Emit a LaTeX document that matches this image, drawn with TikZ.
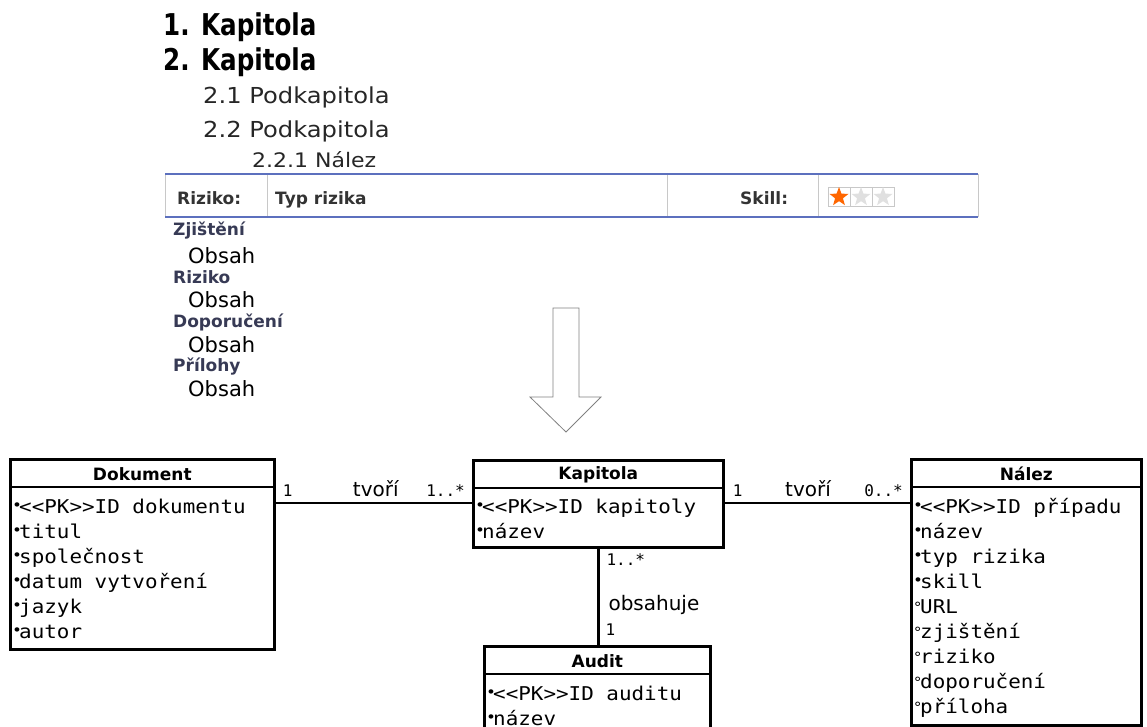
\documentclass[tikz,border=0pt]{standalone}
\usepackage{fontspec}
\setmainfont{DejaVu Sans}
\newfontfamily\kapfont[FakeStretch=0.82]{DejaVu Sans Bold}
\newfontfamily\subfont[FakeStretch=1.1]{DejaVu Sans}
\newfontfamily\monofont[FakeStretch=1.1,Ligatures=TeXOff]{DejaVu Sans Mono}
\newfontfamily\multfont[Ligatures=TeXOff]{DejaVu Sans Mono}
\usetikzlibrary{shapes.geometric}
\definecolor{tblue}{RGB}{92,112,190}
\definecolor{tgray}{RGB}{200,200,200}
\definecolor{headc}{RGB}{55,58,85}
\definecolor{starc}{RGB}{255,102,0}
\newcommand{\mand}{\makebox[7pt][l]{\raisebox{3pt}{\fontsize{15}{15}\selectfont •}}}
\newcommand{\opt}{\makebox[7pt][l]{\raisebox{1pt}{\fontsize{14}{14}\selectfont °}}}
\begin{document}
\begin{tikzpicture}[x=1pt,y=-1pt,
  umlbox/.style={draw,line width=2.6pt,inner sep=0,anchor=north west},
  umltitle/.style={font=\bfseries\fontsize{17}{17}\selectfont,inner sep=0},
  row/.style={font=\monofont\fontsize{19}{19}\selectfont,inner sep=0,anchor=base west},
  mult/.style={font=\multfont\fontsize{16}{16}\selectfont,inner sep=0},
  lbl/.style={font=\fontsize{20}{20}\selectfont,inner sep=0},
  thead/.style={font=\bfseries\fontsize{17}{17}\selectfont,text=black!80,inner sep=0,anchor=base west},
  shead/.style={font=\bfseries\fontsize{17}{17}\selectfont,text=headc,inner sep=0,anchor=base west},
  obsah/.style={font=\fontsize{21}{21}\selectfont,inner sep=0,anchor=base west}]
\useasboundingbox (0,0) rectangle (1147,726);
% osnova
\node[font=\kapfont\fontsize{30}{30}\selectfont,inner sep=0,anchor=base west] (k1) at (163,35) {1. Kapitola};
\node[font=\kapfont\fontsize{30}{30}\selectfont,inner sep=0,anchor=base west] (k2) at (163,70) {2. Kapitola};
\node[font=\subfont\fontsize{22}{22}\selectfont,text=black!85,inner sep=0,anchor=base west] (p1) at (203,103) {2.1 Podkapitola};
\node[font=\subfont\fontsize{22}{22}\selectfont,text=black!85,inner sep=0,anchor=base west] (p2) at (203,137) {2.2 Podkapitola};
\node[font=\subfont\fontsize{20}{20}\selectfont,text=black!85,inner sep=0,anchor=base west] (n1) at (252,167) {2.2.1 Nález};
% tabulka nalezu
\draw[tgray] (165,174) -- (165,217) (267,174) -- (267,217) (667,174) -- (667,217) (818,174) -- (818,217) (978,174) -- (978,217);
\draw[tblue,line width=2pt] (165,174) -- (978,174);
\draw[tblue,line width=2pt] (165,217) -- (978,217);
\node[thead] (riz) at (177,204) {Riziko:};
\node[thead] (typ) at (275,204) {Typ rizika};
\node[thead] (skl) at (740,204) {Skill:};
\foreach \s/\c in {0/starc,1/black!12,2/black!12}{
  \draw[tgray] (828+22*\s,187) rectangle (850+22*\s,206);
  \node[star,star points=5,star point ratio=2.4,fill=\c,minimum size=20pt,inner sep=0] at (839+22*\s,197) {};
}
\node[shead] (zj) at (173,235) {Zjištění};
\node[obsah] (o1) at (188,263) {Obsah};
\node[shead] (rz) at (173,283) {Riziko};
\node[obsah] (o2) at (188,307) {Obsah};
\node[shead] (dp) at (173,327) {Doporučení};
\node[obsah] (o3) at (188,352) {Obsah};
\node[shead] (pr) at (173,371) {Přílohy};
\node[obsah] (o4) at (188,396) {Obsah};
% sipka
\draw[black!50,line width=0.8pt,line join=miter] (553,308) -- (579,308) -- (579,397) -- (601,397) -- (566,432) -- (530,397) -- (553,397) -- cycle;
% ER diagram
\node[umlbox,minimum width=264pt,minimum height=190pt] (dok) at (9,458) {};
\node[umlbox,minimum width=250pt,minimum height=87pt] (kap) at (472,459) {};
\node[umlbox,minimum width=230pt,minimum height=266pt] (nal) at (910,458) {};
\node[umlbox,minimum width=226pt,minimum height=110pt] (aud) at (483,645) {};
\foreach \b/\t in {dok/Dokument,kap/Kapitola,nal/Nález,aud/Audit}{
  \draw[line width=2.6pt] ([yshift=-29pt]\b.north west) -- ([yshift=-29pt]\b.north east);
  \node[umltitle] at ([yshift=-16pt]\b.north) {\t};
}
\foreach \t [count=\i] in {\mand<<PK>>ID dokumentu,\mand titul,\mand společnost,\mand datum vytvoření,\mand jazyk,\mand autor}
  \node[row] (dok\i) at ([xshift=3pt,yshift={-55pt-25pt*(\i-1)}]dok.north west) {\t};
\foreach \t [count=\i] in {\mand<<PK>>ID kapitoly,\mand název}
  \node[row] (kap\i) at ([xshift=3pt,yshift={-54pt-25pt*(\i-1)}]kap.north west) {\t};
\foreach \t [count=\i] in {\mand<<PK>>ID případu,\mand název,\mand typ rizika,\mand skill,\opt URL,\opt zjištění,\opt riziko,\opt doporučení,\opt příloha}
  \node[row] (nal\i) at ([xshift=3pt,yshift={-55pt-25pt*(\i-1)}]nal.north west) {\t};
\foreach \t [count=\i] in {\mand<<PK>>ID auditu,\mand název}
  \node[row] (aud\i) at ([xshift=3pt,yshift={-55pt-25pt*(\i-1)}]aud.north west) {\t};
% vazby
\coordinate (l1) at ([yshift=-45pt]dok.north east);
\coordinate (l2) at ([yshift=-44pt]kap.north east);
\draw[line width=2.6pt] (l1) -- node[lbl,pos=0.51,anchor=base,yshift=7pt]{tvoří} (kap.west |- l1);
\draw[line width=2.6pt] (l2) -- node[lbl,pos=0.45,anchor=base,yshift=7pt]{tvoří} (nal.west |- l2);
\draw[line width=2.6pt] (kap.south) -- (kap.south |- aud.north);
\node[mult,anchor=base west] at ([xshift=7pt,yshift=7pt]l1) {1};
\node[mult,anchor=base east] at ([xshift=-7pt,yshift=7pt]kap.west |- l1) {1..*};
\node[mult,anchor=base west] at ([xshift=8pt,yshift=7pt]l2) {1};
\node[mult,anchor=base east] at ([xshift=-7pt,yshift=7pt]nal.west |- l2) {0..*};
\node[mult,anchor=base west] at ([xshift=8pt,yshift=-17pt]kap.south) {1..*};
\node[lbl,anchor=base west] at ([xshift=10pt,yshift=-62pt]kap.south) {obsahuje};
\node[mult,anchor=base west] at ([xshift=8pt,yshift=10pt]aud.north) {1};
\end{tikzpicture}
\end{document}
